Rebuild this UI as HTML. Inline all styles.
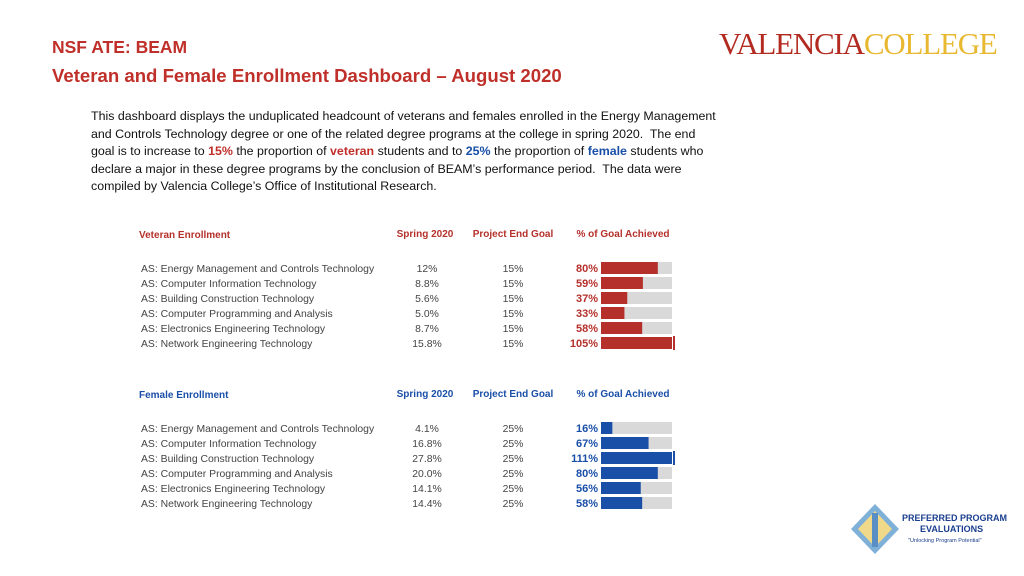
<!DOCTYPE html>
<html><head><meta charset="utf-8">
<style>
body{margin:0;width:1024px;height:576px;background:#fff;font-family:"Liberation Sans",sans-serif;position:relative;overflow:hidden}
.a{position:absolute;white-space:nowrap}
#t1{left:52px;top:37px;font-size:17.5px;font-weight:bold;color:#c0302a}
#t2{left:52px;top:65px;font-size:18.6px;font-weight:bold;color:#c0302a}
#intro{left:91px;top:108px;font-size:12.4px;line-height:17.6px;color:#111}
#logo{left:719px;top:26px;font-family:"Liberation Serif",serif;font-size:31px;letter-spacing:-1.2px}
</style></head><body>
<div class="a" id="t1">NSF ATE: BEAM</div>
<div class="a" id="t2">Veteran and Female Enrollment Dashboard – August 2020</div>
<div class="a" id="logo"><span style="color:#b22a20">VALENCIA</span><span style="color:#e8b830">COLLEGE</span></div>
<div class="a" id="intro">This dashboard displays the unduplicated headcount of veterans and females enrolled in the Energy Management<br>and Controls Technology degree or one of the related degree programs at the college in spring 2020.&nbsp; The end<br>goal is to increase to <b style="color:#c0302a">15%</b> the proportion of <b style="color:#c0302a">veteran</b> students and to <b style="color:#1a4fa8">25%</b> the proportion of <b style="color:#1a4fa8">female</b> students who<br>declare a major in these degree programs by the conclusion of BEAM’s performance period.&nbsp; The data were<br>compiled by Valencia College’s Office of Institutional Research.</div>
<svg id="chart" width="1024" height="576" style="position:absolute;left:0;top:0"></svg>
<div class="a" style="left:850px;top:503px">
<svg width="50" height="52"><polygon points="25,1 49,26 25,51 1,26" fill="#7fb0d8"/><polygon points="25,8 42,26 25,44 8,26" fill="#f1d98a"/><rect x="22" y="10" width="6" height="34" fill="#5a8fc5"/></svg>
<div style="position:absolute;left:52px;top:10px;color:#1b3f8f;font-size:9px;font-weight:bold;line-height:10.5px">PREFERRED PROGRAM<br><span style="margin-left:18px">EVALUATIONS</span><br><span style="font-size:5.5px;font-weight:normal;margin-left:6px">"Unlocking Program Potential"</span></div>
</div>
<script>
const programs=["AS: Energy Management and Controls Technology","AS: Computer Information Technology","AS: Building Construction Technology","AS: Computer Programming and Analysis","AS: Electronics Engineering Technology","AS: Network Engineering Technology"];
const vetSpring=["12%","8.8%","5.6%","5.0%","8.7%","15.8%"];
const vetGoal="15%";
const vetPct=[80,59,37,33,58,105];
const femSpring=["4.1%","16.8%","27.8%","20.0%","14.1%","14.4%"];
const femGoal="25%";
const femPct=[16,67,111,80,56,58];
const svg=document.getElementById('chart');const NS='http://www.w3.org/2000/svg';
function el(t,a,txt){const e=document.createElementNS(NS,t);for(const k in a)e.setAttribute(k,a[k]);if(txt!=null)e.textContent=txt;svg.appendChild(e);return e;}
const x0=601,tw=71;const xs=p=>x0+tw*Math.min(p,100)/100;
function table(top,title,spring,goal,pct,col,key){
 let h=el('text',{x:139,y:top+4,'font-size':10,'font-weight':'bold',fill:col},title);
 
 [["Spring 2020",425],["Project End Goal",513],["% of Goal Achieved",623]].forEach((c,i)=>{
  const t=el('text',{x:c[1],y:top+3,'font-size':10,'font-weight':'bold',fill:col,'text-anchor':'middle'},c[0]);
  });
 programs.forEach((p,i)=>{const y=top+34+i*15;
  let t=el('text',{x:141,y:y+4,'font-size':10.4,fill:'#444'},p);
  
  t=el('text',{x:427,y:y+4,'font-size':10.4,fill:'#444','text-anchor':'middle'},spring[i]);
  
  t=el('text',{x:513,y:y+4,'font-size':10.4,fill:'#444','text-anchor':'middle'},goal);
  
  t=el('text',{x:598,y:y+4,'font-size':11,'font-weight':'bold',fill:col,'text-anchor':'end'},pct[i]+'%');
  
  let r=el('rect',{x:x0,y:y-6,width:tw,height:12,fill:'#d9d9d9'});
  
  r=el('rect',{x:x0,y:y-6,width:xs(pct[i])-x0,height:12,fill:col});
  
  if(pct[i]>100){r=el('rect',{x:x0+tw+1,y:y-7,width:2,height:14,fill:col});
   }
 });
}
table(234,"Veteran Enrollment",vetSpring,vetGoal,vetPct,'#b5302a','veteran');
table(394,"Female Enrollment",femSpring,femGoal,femPct,'#1a4fa8','female');
</script>
</body></html>
